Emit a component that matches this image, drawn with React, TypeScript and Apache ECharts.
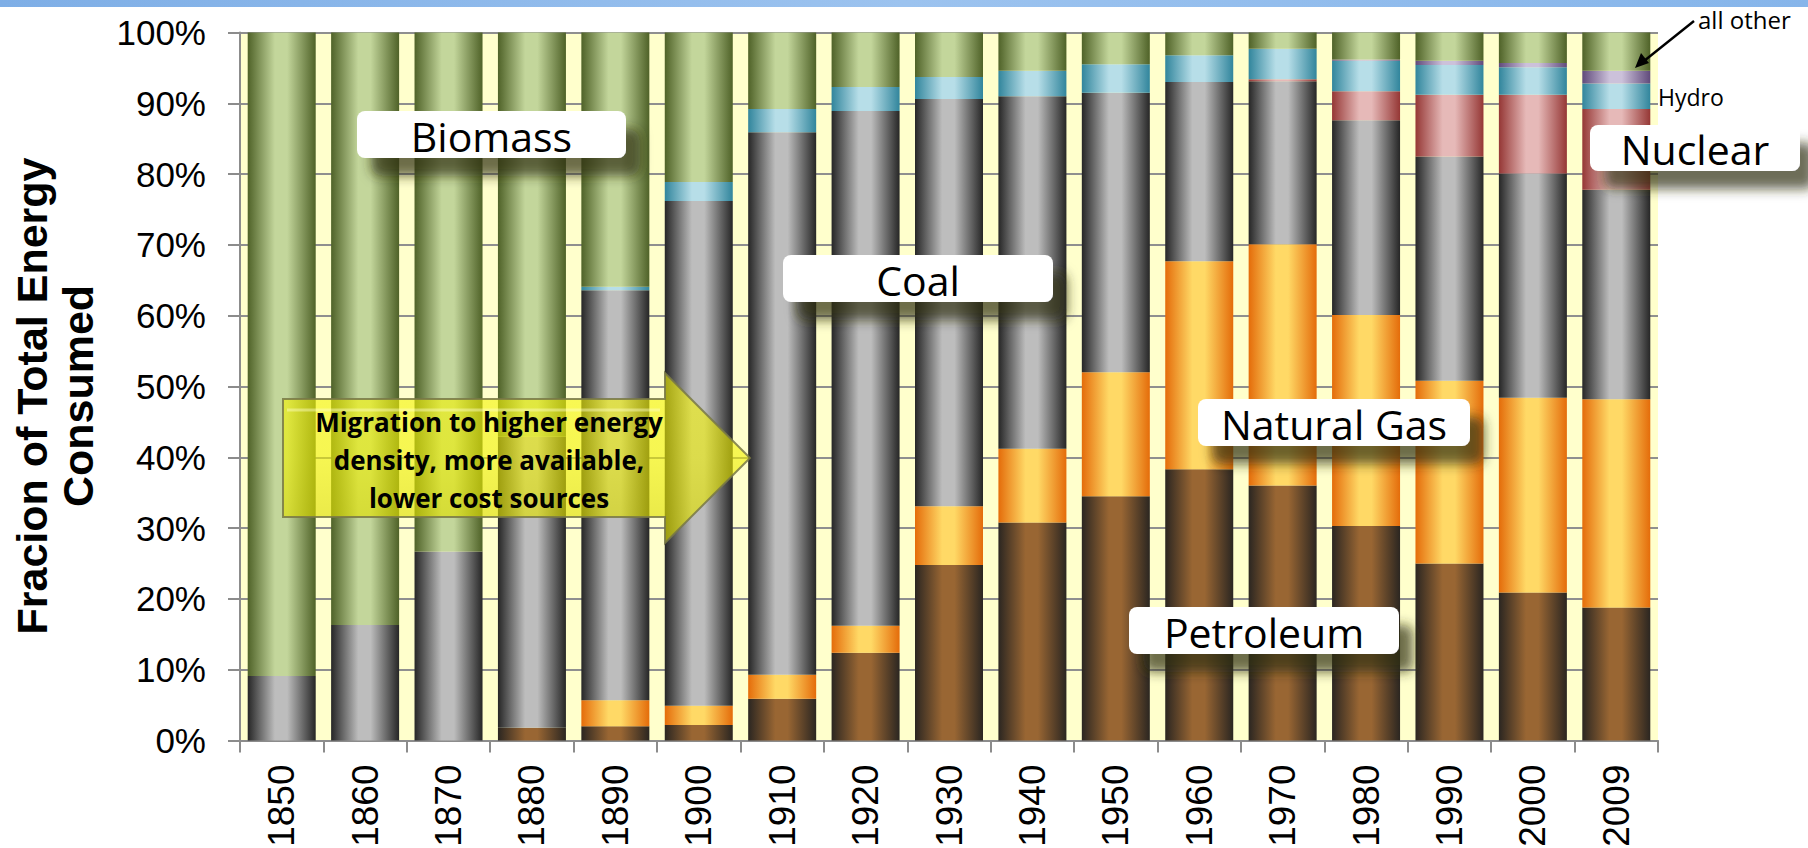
import { useEffect, useRef } from "react";
import * as echarts from "echarts";

// Share of total US energy consumption by source (%), bottom to top of each stack
const years = ["1850", "1860", "1870", "1880", "1890", "1900", "1910", "1920", "1930", "1940", "1950", "1960", "1970", "1980", "1990", "2000", "2009"];
const petroleum = [0, 0, 0, 1.8, 2.0, 2.2, 5.9, 12.4, 24.8, 30.8, 34.5, 38.3, 36.0, 30.3, 25.0, 20.9, 18.8];
const naturalGas = [0, 0, 0, 0, 3.7, 2.7, 3.4, 3.8, 8.3, 10.4, 17.5, 29.4, 34.1, 29.8, 25.8, 27.5, 29.4];
const coal = [9.1, 16.3, 26.7, 41.1, 57.9, 71.3, 76.6, 72.7, 57.5, 49.8, 39.5, 25.3, 23.0, 27.5, 31.7, 31.7, 29.6];
const nuclear = [0, 0, 0, 0, 0, 0, 0, 0, 0, 0, 0, 0, 0.3, 4.1, 8.7, 11.1, 11.4];
const hydro = [0, 0, 0, 0, 0.5, 2.7, 3.3, 3.4, 3.1, 3.6, 4.0, 3.8, 4.3, 4.3, 4.2, 3.9, 3.6];
const allOther = [0, 0, 0, 0, 0, 0, 0, 0, 0, 0, 0, 0, 0, 0.2, 0.6, 0.6, 1.8];
const biomass = [90.9, 83.7, 73.3, 57.1, 35.9, 21.1, 10.8, 7.7, 6.3, 5.4, 4.5, 3.2, 2.3, 3.8, 4.0, 4.3, 5.4];

const yTicks = { min: 0, max: 100, interval: 10 };

// cylinder-like horizontal shading: dark edge -> light centre -> dark edge
const tube = (edge: string, light: string) => ({
  type: "linear",
  x: 0,
  y: 0,
  x2: 1,
  y2: 0,
  colorStops: [
    { offset: 0, color: edge },
    { offset: 0.4, color: light },
    { offset: 0.58, color: light },
    { offset: 1, color: edge },
  ],
});

const seriesDefs = [
  { name: "Petroleum", data: petroleum, color: tube("#2b2621", "#996633") },
  { name: "Natural Gas", data: naturalGas, color: tube("#e46c0a", "#ffd966") },
  { name: "Coal", data: coal, color: tube("#262626", "#bdbdbd") },
  { name: "Nuclear", data: nuclear, color: tube("#953735", "#e6b9b8") },
  { name: "Hydro", data: hydro, color: tube("#31859c", "#b7dee8") },
  { name: "all other", data: allOther, color: tube("#604a7b", "#ccc1da") },
  { name: "Biomass", data: biomass, color: tube("#4f6228", "#c3d69b") },
];

const labelFont = "'Open Sans', 'Noto Sans', sans-serif";
const axisFont = "'Liberation Sans', Arial, sans-serif";

const callout = (text: string, x: number, y: number, w: number, h: number) => [
  {
    type: "rect",
    z: 100,
    shape: { x, y, width: w, height: h, r: 8 },
    style: {
      fill: "#ffffff",
      shadowColor: "rgba(45,45,25,0.7)",
      shadowBlur: 12,
      shadowOffsetX: 14,
      shadowOffsetY: 18,
    },
  },
  {
    type: "text",
    z: 101,
    x: x + w / 2,
    y: y + h / 2 + 1,
    style: {
      text,
      font: `400 41px ${labelFont}`,
      fill: "#000000",
      textAlign: "center",
      textVerticalAlign: "middle",
    },
  },
];

export default function App() {
  const ref = useRef<HTMLDivElement>(null);

  useEffect(() => {
    if (!ref.current) return;
    const chart = echarts.init(ref.current, undefined, { renderer: "svg" });

    const option = {
      animation: false,
      backgroundColor: "#ffffff",
      grid: {
        left: 240,
        right: 150,
        top: 32.5,
        bottom: 107.5,
        show: true,
        backgroundColor: "#ffffcc",
        borderWidth: 0,
        containLabel: false,
        outerBoundsMode: "none",
      },
      xAxis: {
        type: "category",
        data: years,
        boundaryGap: true,
        axisLine: { show: true, lineStyle: { color: "#8c8c8c", width: 2 } },
        axisTick: { show: true, interval: 0, length: 12, lineStyle: { color: "#8c8c8c", width: 2 } },
        axisLabel: {
          interval: 0,
          rotate: 90,
          margin: 24,
          color: "#000000",
          fontFamily: axisFont,
          fontSize: 37,
        },
        splitLine: { show: false },
      },
      yAxis: {
        type: "value",
        min: yTicks.min,
        max: yTicks.max,
        interval: yTicks.interval,
        axisLine: { show: true, lineStyle: { color: "#8c8c8c", width: 2 } },
        axisTick: { show: true, length: 12, lineStyle: { color: "#8c8c8c", width: 2 } },
        axisLabel: {
          margin: 34,
          color: "#000000",
          fontFamily: axisFont,
          fontSize: 35,
          formatter: "{value}%",
        },
        splitLine: { show: true, lineStyle: { color: "#8f8f8f", width: 2 } },
      },
      series: seriesDefs.map((s) => ({
        name: s.name,
        type: "bar",
        stack: "total",
        barWidth: 68,
        data: s.data,
        itemStyle: { color: s.color },
        emphasis: { disabled: true },
      })),
      graphic: [
        // slide banner strip
        {
          type: "rect",
          z: 100,
          shape: { x: 0, y: 0, width: 1808, height: 7 },
          style: {
            fill: {
              type: "linear",
              x: 0,
              y: 0,
              x2: 1,
              y2: 0,
              colorStops: [
                { offset: 0, color: "#7eaee6" },
                { offset: 0.5, color: "#9cc3ef" },
                { offset: 1, color: "#86b5ea" },
              ],
            },
          },
        },
        // y-axis title
        {
          type: "text",
          z: 100,
          x: 55,
          y: 396,
          rotation: Math.PI / 2,
          style: {
            text: "Fracion of Total Energy\nConsumed",
            font: `bold 43px ${axisFont}`,
            fill: "#000000",
            textAlign: "center",
            textVerticalAlign: "middle",
            lineHeight: 46,
          },
        },
        // migration arrow
        {
          type: "polygon",
          z: 90,
          shape: {
            points: [
              [283, 399],
              [665, 399],
              [665, 373],
              [750, 458],
              [665, 543],
              [665, 517],
              [283, 517],
            ],
          },
          style: {
            fill: {
              type: "linear",
              x: 0,
              y: 0,
              x2: 0,
              y2: 1,
              colorStops: [
                { offset: 0, color: "rgba(245,245,10,0.62)" },
                { offset: 0.5, color: "rgba(240,240,0,0.6)" },
                { offset: 1, color: "rgba(215,215,0,0.66)" },
              ],
            },
            stroke: "rgba(120,120,70,0.85)",
            lineWidth: 2,
          },
        },
        {
          type: "line",
          z: 91,
          shape: { x1: 287, y1: 410, x2: 660, y2: 410 },
          style: { stroke: "rgba(255,255,200,0.45)", lineWidth: 3 },
        },
        {
          type: "text",
          z: 92,
          x: 489,
          y: 460,
          style: {
            text: "Migration to higher energy\ndensity, more available,\nlower cost sources",
            font: `bold 26px ${labelFont}`,
            fill: "#000000",
            textAlign: "center",
            textVerticalAlign: "middle",
            lineHeight: 38,
          },
        },
        ...callout("Biomass", 357, 111, 269, 47),
        ...callout("Coal", 783, 255, 270, 47),
        ...callout("Natural Gas", 1198, 399, 272, 47),
        ...callout("Petroleum", 1129, 607, 270, 47),
        ...callout("Nuclear", 1590, 125, 210, 46),
        // small source labels
        {
          type: "text",
          z: 100,
          x: 1658,
          y: 97,
          style: {
            text: "Hydro",
            font: `400 23px ${labelFont}`,
            fill: "#000000",
            textAlign: "left",
            textVerticalAlign: "middle",
          },
        },
        {
          type: "text",
          z: 100,
          x: 1698,
          y: 19,
          style: {
            text: "all other",
            font: `400 24px ${labelFont}`,
            fill: "#000000",
            textAlign: "left",
            textVerticalAlign: "middle",
          },
        },
        {
          type: "line",
          z: 100,
          shape: { x1: 1694, y1: 21, x2: 1644, y2: 61 },
          style: { stroke: "#000000", lineWidth: 2.5 },
        },
        {
          type: "polygon",
          z: 100,
          shape: {
            points: [
              [1635, 68],
              [1649, 63],
              [1641, 53],
            ],
          },
          style: { fill: "#000000" },
        },
      ],
    };

    chart.setOption(option as any);
    return () => chart.dispose();
  }, []);

  return (
    <div
      ref={ref}
      style={{ position: "fixed", left: 0, top: 0, width: 1808, height: 848, background: "#ffffff" }}
    />
  );
}
